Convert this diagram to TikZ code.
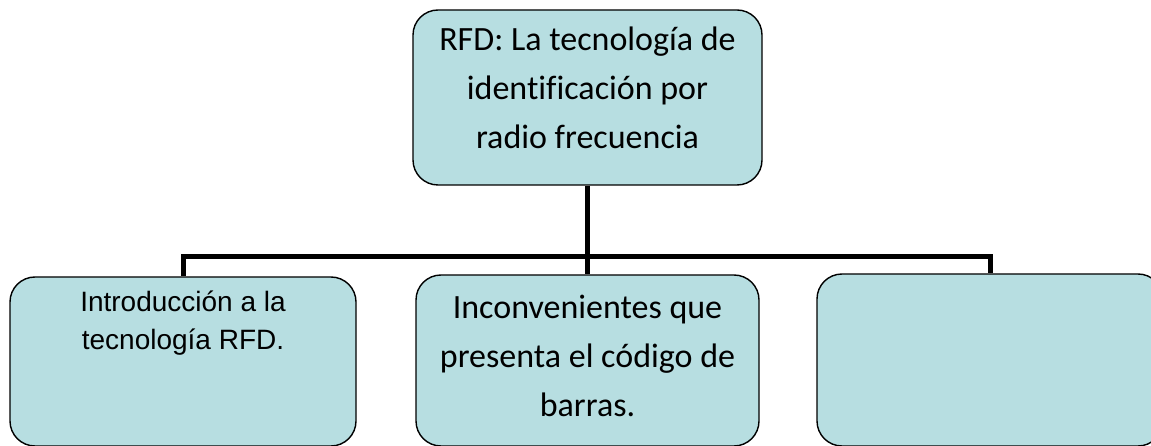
\documentclass[tikz,border=0pt]{standalone}
\usepackage{fontspec}
\newfontfamily\carlito[Ligatures=NoCommon]{Carlito}
\newfontfamily\liberation{Liberation Sans}
\usetikzlibrary{positioning}
\definecolor{boxfill}{RGB}{183,222,225}

\tikzset{
	box/.style={draw, line width=1.4pt, fill=boxfill, rounded corners=25pt, inner sep=0pt},
	ctext/.style={inner sep=0pt, align=center, font=\carlito\fontsize{34}{49}\selectfont},
	atext/.style={inner sep=0pt, align=center, font=\liberation\fontsize{28}{38}\selectfont},
	bus/.style={line width=5pt, line join=miter}
}

\begin{document}
\begin{tikzpicture}[x=1pt, y=-1pt]
	\useasboundingbox (0,0) rectangle (1151,446);

	\node[box, minimum width=349pt, minimum height=175pt] (top) at (587.5,97.5) {};
	\node[box, minimum width=346pt, minimum height=169pt] (intro) at (183,361.5) {};
	\node[box, minimum width=343pt, minimum height=171pt] (inconv) at (587.5,360.5) {};
	\node[box, minimum width=346pt, minimum height=172pt] (blank) at (990,360) {};

	\node[ctext, below=17pt of top.north] (toptext) {RFD: La tecnología de\\identificación por\\radio frecuencia};
	\node[atext, below=14pt of intro.north] (introtext) {Introducción a la\\tecnología RFD.};
	\node[ctext, below=20.5pt of inconv.north] (inconvtext) {Inconvenientes que\\presenta el código de\\barras.};

	\coordinate (hub) at (587.5,257);
	\draw[bus] (top.south) -- (inconv.north);
	\draw[bus] (intro.north) |- (hub) -| (blank.north);
\end{tikzpicture}
\end{document}
